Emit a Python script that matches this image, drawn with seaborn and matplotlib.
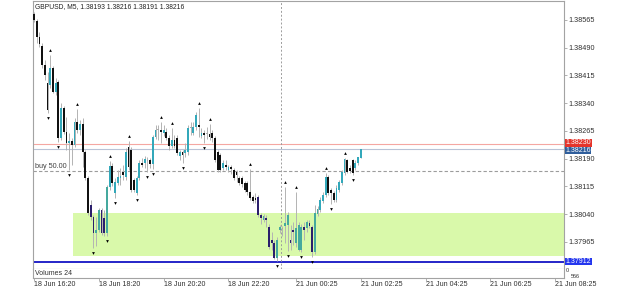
import matplotlib
matplotlib.use("Agg")
import matplotlib.pyplot as plt
import matplotlib.transforms as mtransforms
import numpy as np
import pandas as pd
import seaborn as sns

# ---- data (GBPUSD M5) ----
symbol_title = "GBPUSD, M5, 1.38193 1.38216 1.38191 1.38216"

opens = [1.38581, 1.38562, 1.38519, 1.38495, 1.38443, 1.38395, 1.38389, 1.38435, 1.38370, 1.38397,
         1.38246, 1.38327, 1.38262, 1.38233, 1.38238, 1.38227, 1.38289, 1.38268, 1.38284, 1.38208,
         1.38138, 1.38065, 1.38033, 1.37989, 1.37997, 1.38051, 1.38030, 1.37989, 1.38114, 1.38170,
         1.38097, 1.38124, 1.38138, 1.38154, 1.38141, 1.38222, 1.38214, 1.38133, 1.38097, 1.38138,
         1.38178, 1.38178, 1.38187, 1.38187, 1.38176, 1.38249, 1.38268, 1.38268, 1.38260, 1.38262,
         1.38246, 1.38224, 1.38241, 1.38246, 1.38197, 1.38208, 1.38205, 1.38208, 1.38273, 1.38260,
         1.38276, 1.38281, 1.38251, 1.38260, 1.38257, 1.38257, 1.38260, 1.38246, 1.38208, 1.38200,
         1.38165, 1.38173, 1.38160, 1.38168, 1.38160, 1.38154, 1.38138, 1.38138, 1.38124, 1.38124,
         1.38100, 1.38087, 1.38084, 1.38087, 1.38038, 1.38024, 1.38030, 1.38005, 1.37970, 1.37962,
         1.37922, 1.37997, 1.38003, 1.38008, 1.38011, 1.37970, 1.37997, 1.37962, 1.37943, 1.37943,
         1.38005, 1.38003, 1.38016, 1.38005, 1.37938, 1.38041, 1.38051, 1.38076, 1.38092, 1.38141,
         1.38105, 1.38097, 1.38078, 1.38105, 1.38124, 1.38151, 1.38187, 1.38165, 1.38187, 1.38165,
         1.38178, 1.38193]
highs = [1.38587, 1.38568, 1.38533, 1.38503, 1.38457, 1.38424, 1.38470, 1.38441, 1.38408, 1.38403,
         1.38341, 1.38333, 1.38303, 1.38260, 1.38246, 1.38300, 1.38324, 1.38295, 1.38300, 1.38214,
         1.38143, 1.38078, 1.38038, 1.38033, 1.38057, 1.38057, 1.38051, 1.38119, 1.38184, 1.38178,
         1.38138, 1.38160, 1.38165, 1.38173, 1.38219, 1.38238, 1.38222, 1.38138, 1.38143, 1.38187,
         1.38192, 1.38197, 1.38195, 1.38192, 1.38254, 1.38281, 1.38281, 1.38289, 1.38281, 1.38273,
         1.38254, 1.38273, 1.38254, 1.38254, 1.38214, 1.38214, 1.38233, 1.38281, 1.38289, 1.38289,
         1.38316, 1.38327, 1.38273, 1.38268, 1.38276, 1.38284, 1.38268, 1.38251, 1.38214, 1.38205,
         1.38187, 1.38187, 1.38173, 1.38173, 1.38165, 1.38160, 1.38143, 1.38143, 1.38130, 1.38130,
         1.38162, 1.38092, 1.38097, 1.38092, 1.38043, 1.38041, 1.38038, 1.38014, 1.37992, 1.37970,
         1.37978, 1.38011, 1.38008, 1.38114, 1.38046, 1.38011, 1.38019, 1.38100, 1.38019, 1.38014,
         1.38019, 1.38024, 1.38024, 1.38011, 1.38065, 1.38062, 1.38087, 1.38100, 1.38151, 1.38146,
         1.38111, 1.38103, 1.38119, 1.38133, 1.38160, 1.38192, 1.38189, 1.38173, 1.38189, 1.38187,
         1.38195, 1.38216]
lows = [1.38560, 1.38503, 1.38492, 1.38435, 1.38403, 1.38314, 1.38381, 1.38368, 1.38362, 1.38235,
        1.38241, 1.38257, 1.38214, 1.38160, 1.38173, 1.38222, 1.38260, 1.38254, 1.38168, 1.38133,
        1.38038, 1.38024, 1.37949, 1.37954, 1.37992, 1.37984, 1.37981, 1.37981, 1.38105, 1.38116,
        1.38084, 1.38119, 1.38119, 1.38133, 1.38133, 1.38160, 1.38100, 1.38100, 1.38092, 1.38133,
        1.38168, 1.38165, 1.38154, 1.38165, 1.38162, 1.38243, 1.38241, 1.38233, 1.38251, 1.38241,
        1.38214, 1.38219, 1.38219, 1.38200, 1.38187, 1.38178, 1.38195, 1.38200, 1.38254, 1.38254,
        1.38268, 1.38249, 1.38246, 1.38233, 1.38243, 1.38241, 1.38235, 1.38181, 1.38154, 1.38154,
        1.38160, 1.38160, 1.38154, 1.38149, 1.38133, 1.38127, 1.38119, 1.38114, 1.38100, 1.38092,
        1.38078, 1.38070, 1.38070, 1.38033, 1.38014, 1.38019, 1.38005, 1.37946, 1.37943, 1.37919,
        1.37914, 1.37989, 1.37981, 1.37962, 1.37941, 1.37943, 1.37957, 1.37951, 1.37940, 1.37938,
        1.37970, 1.37992, 1.38003, 1.37924, 1.37933, 1.38035, 1.38046, 1.38070, 1.38087, 1.38092,
        1.38068, 1.38073, 1.38073, 1.38100, 1.38119, 1.38146, 1.38151, 1.38151, 1.38146, 1.38160,
        1.38173, 1.38191]
closes = [1.38565, 1.38519, 1.38500, 1.38443, 1.38416, 1.38322, 1.38435, 1.38370, 1.38395, 1.38246,
          1.38327, 1.38262, 1.38233, 1.38238, 1.38227, 1.38289, 1.38268, 1.38284, 1.38208, 1.38138,
          1.38043, 1.38033, 1.37989, 1.37997, 1.38051, 1.37989, 1.37989, 1.38114, 1.38170, 1.38124,
          1.38127, 1.38141, 1.38143, 1.38146, 1.38208, 1.38168, 1.38105, 1.38105, 1.38138, 1.38178,
          1.38173, 1.38189, 1.38184, 1.38176, 1.38249, 1.38268, 1.38270, 1.38262, 1.38268, 1.38246,
          1.38224, 1.38241, 1.38224, 1.38205, 1.38208, 1.38200, 1.38214, 1.38273, 1.38276, 1.38276,
          1.38308, 1.38276, 1.38260, 1.38254, 1.38260, 1.38249, 1.38246, 1.38187, 1.38160, 1.38160,
          1.38178, 1.38168, 1.38168, 1.38162, 1.38138, 1.38146, 1.38124, 1.38122, 1.38105, 1.38100,
          1.38084, 1.38076, 1.38078, 1.38038, 1.38030, 1.38035, 1.38024, 1.37951, 1.37962, 1.37922,
          1.37970, 1.38005, 1.38000, 1.38016, 1.38038, 1.37962, 1.37992, 1.38003, 1.38011, 1.38005,
          1.37997, 1.38019, 1.38008, 1.37938, 1.38043, 1.38054, 1.38078, 1.38092, 1.38141, 1.38097,
          1.38097, 1.38078, 1.38111, 1.38127, 1.38154, 1.38189, 1.38154, 1.38157, 1.38151, 1.38178,
          1.38195, 1.38216]

fractal_up_bars = [6, 16, 28, 35, 47, 51, 61, 65, 80, 93, 97, 108, 115]
fractal_down_bars = [5, 9, 13, 22, 27, 30, 38, 42, 44, 55, 63, 90, 94, 99, 103, 110, 118]

price_ticks = [1.38565, 1.38490, 1.38415, 1.38340, 1.38265, 1.38190, 1.38115, 1.38040, 1.37965]
time_tick_bars = [0, 24, 48, 72, 97, 121, 145, 169, 193]
time_tick_labels = ["18 Jun 16:20", "18 Jun 18:20", "18 Jun 20:20", "18 Jun 22:20",
                    "21 Jun 00:25", "21 Jun 02:25", "21 Jun 04:25", "21 Jun 06:25", "21 Jun 08:25"]

ask_price = 1.38230
bid_price = 1.38216
buy_price = 1.38157
buy_label = "buy 50.00"
stop_price = 1.37912
zone_top = 1.38043
zone_bottom = 1.37927
zone_start_bar = 14.5
day_break_bar = 91.5
volume_label = "Volumes 24"
volume_max = "566"
volume_min = "0"

# ---- frame ----
df = pd.DataFrame({"open": opens, "high": highs, "low": lows, "close": closes})
df["bar"] = np.arange(len(df))

sns.set_theme(style="white")
plt.rcParams["font.family"] = ["Liberation Sans", "DejaVu Sans"]

W, H = 625, 289
fig = plt.figure(figsize=(W / 100, H / 100), dpi=100)
fig.patch.set_facecolor("white")
ax = fig.add_axes([33 / W, (H - 269) / H, (564 - 33) / W, (269 - 1) / H])
axv = fig.add_axes([33 / W, (H - 278) / H, (564 - 33) / W, (278 - 269) / H])

frame_col = "#a3a3a3"
txt_col = "#303030"
x_lo, x_hi = -0.4, 196.3

# demand zone
ax.fill_between([zone_start_bar, x_hi + 5], zone_bottom, zone_top, color="#d9f9aa", lw=0, zorder=0)

# price lines
ax.axhline(ask_price, color="#f5a7a2", lw=0.8, zorder=1)
ax.axhline(bid_price, color="#b9c3d6", lw=0.8, zorder=1)
ax.axhline(buy_price, color="#9c9c9c", lw=0.8, ls=(0, (3, 2)), zorder=1)
ax.axhline(stop_price, color="#1414c4", lw=1.3, zorder=1)
ax.axvline(day_break_bar, color="#9c9c9c", lw=0.7, ls=(0, (2, 2)), zorder=1)


def body_color(r):
    d = r.close - r.open
    in_zone = r.bar >= zone_start_bar and min(r.open, r.close) < zone_top
    if abs(d) < 0.000035:
        return "#a9a9a9"
    if d > 0:
        return "#45a99e" if in_zone else "#33a8ba"
    return "#2b1f6c" if in_zone else "#111111"


# candles
colors = [body_color(r) for r in df.itertuples()]
ax.vlines(df["bar"], df["low"], df["high"], color="#b3b3b3", lw=0.7, zorder=2)
body_lo = np.minimum(df["open"], df["close"])
body_h = np.maximum((df["close"] - df["open"]).abs(), 0.000005)
ax.bar(df["bar"], body_h, bottom=body_lo, width=0.65, color=colors, lw=0, zorder=3)

# fractals
off = 0.000135
up = df.loc[fractal_up_bars]
dn = df.loc[fractal_down_bars]
sns.scatterplot(x=up["bar"], y=up["high"] + off, marker="^", s=4, color="black",
                linewidth=0, ax=ax, zorder=4)
sns.scatterplot(x=dn["bar"], y=dn["low"] - off, marker="v", s=4, color="black",
                linewidth=0, ax=ax, zorder=4)

ax.set_xlim(x_lo, x_hi)
ax.set_ylim(1.37892, 1.38616)
ax.set_xlabel("")
ax.set_ylabel("")
ax.set_xticks([])
ax.yaxis.tick_right()
ax.set_yticks(price_ticks)
ax.set_yticklabels([f"{p:.5f}" for p in price_ticks])
ax.tick_params(axis="y", right=True, direction="out", length=2, width=0.6, color=frame_col,
               pad=1, labelsize=5.2, labelcolor=txt_col)
for s in ax.spines.values():
    s.set_color(frame_col)
    s.set_linewidth(0.8)

# texts
ax.text(0.4, 1.38611, symbol_title, ha="left", va="top", fontsize=4.9, color="#202020")
ax.text(0.4, buy_price + 0.00002, buy_label, ha="left", va="bottom", fontsize=5.2, color="#404040")

tr = mtransforms.blended_transform_factory(ax.transAxes, ax.transData)
tags = [(ask_price + 0.00003, ask_price, "#e5342b"),
        (bid_price - 0.00004, bid_price, "#2f5e9c"),
        (stop_price, stop_price, "#2436ee")]
for ypos, price, face in tags:
    ax.text(1.003, ypos, f"{price:.5f}", transform=tr, ha="left", va="center",
            fontsize=5.0, color="white", zorder=6,
            bbox=dict(boxstyle="square,pad=0.05", facecolor=face, edgecolor="none"))

# volumes sub-window
axv.set_xlim(x_lo, x_hi)
axv.set_ylim(0, 1)
axv.set_yticks([])
axv.set_xticks(time_tick_bars)
axv.set_xticklabels(time_tick_labels, ha="left")
axv.tick_params(axis="x", bottom=True, direction="out", length=2, width=0.6, color=frame_col,
                pad=0.5, labelsize=5.1, labelcolor=txt_col)
for s in axv.spines.values():
    s.set_color(frame_col)
    s.set_linewidth(0.8)
axv.spines["top"].set_visible(False)
axv.text(0.4, 0.5, volume_label, ha="left", va="center", fontsize=5.0, color=txt_col)
axv.text(1.004, 0.55, volume_min, transform=axv.transAxes, ha="left", va="bottom",
         fontsize=4.0, color=txt_col)
axv.text(1.012, 0.5, volume_max, transform=axv.transAxes, ha="left", va="top",
         fontsize=4.0, color=txt_col)

fig.savefig("out.png", dpi=100)
